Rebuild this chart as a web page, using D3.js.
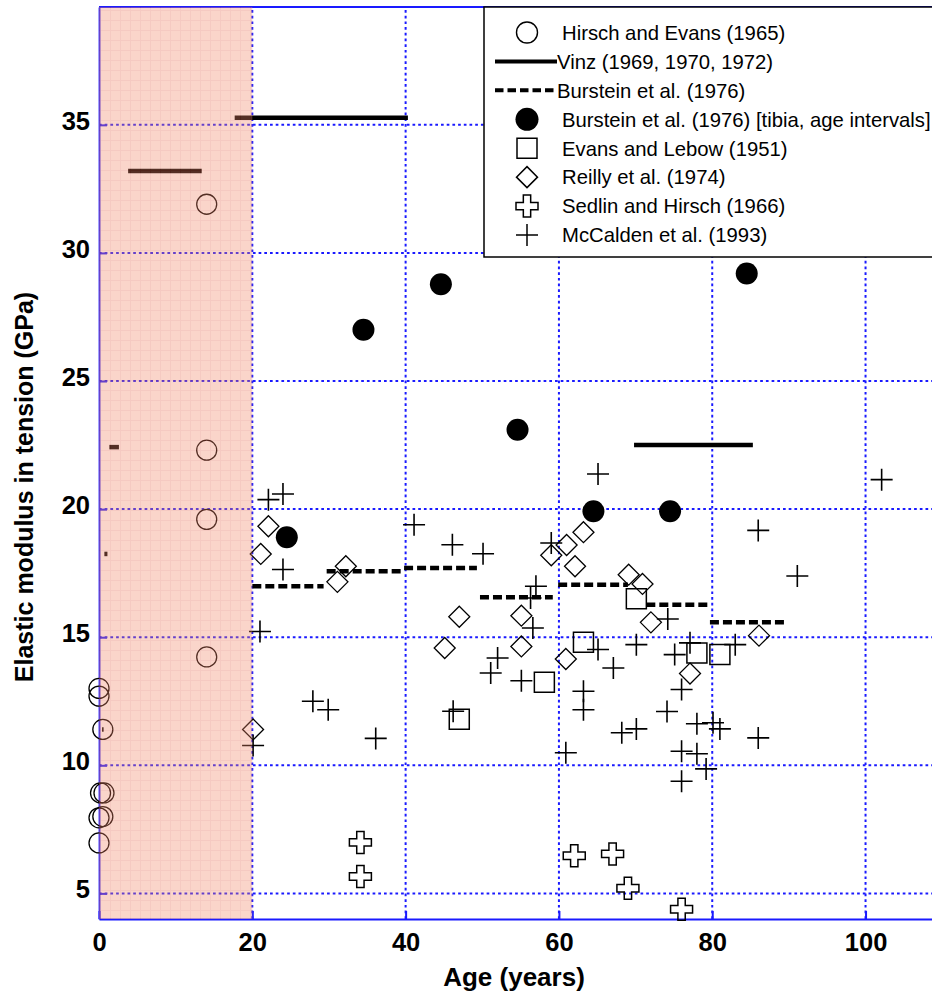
<!DOCTYPE html>
<html>
<head>
<meta charset="utf-8">
<script src="https://cdn.jsdelivr.net/npm/d3@7"></script>
<style>
body { margin: 0; background: #fff; }
text { font-family: "Liberation Sans", Arial, sans-serif; }
</style>
</head>
<body>
<div id="chart"></div>
<script>
// Hirsch and Evans (1965) - open circles
var hirschAge = [0.0, 0.0, 0.5, 0.2, 0.65, 0.0, 0.5, 0.0, 14.05, 14.05, 14.05, 14.05];
var hirschMod = [13.0, 12.7, 11.4, 8.92, 8.92, 7.95, 8.0, 6.97, 31.9, 22.3, 19.6, 14.23];

// Vinz (1969, 1970, 1972) - solid segments
var vinzFrom = [0.4, 0.7, 1.35, 3.8, 17.7, 69.8];
var vinzTo   = [0.6, 1.1, 2.6, 13.4, 40.3, 85.3];
var vinzMod  = [11.4, 18.25, 22.42, 33.2, 35.28, 22.5];

// Burstein et al. (1976) - dashed segments
var bursteinFrom = [20, 29.7, 39.8, 49.7, 59.9, 71.4, 79.7];
var bursteinTo   = [29.3, 39.7, 49.3, 59.2, 69.0, 79.5, 89.5];
var bursteinMod  = [16.99, 17.57, 17.7, 16.56, 17.05, 16.27, 15.58];

// Burstein et al. (1976) tibia, age intervals - filled circles
var tibiaAge = [24.5, 34.5, 44.6, 54.6, 64.5, 74.5, 84.5];
var tibiaMod = [18.9, 27.0, 28.78, 23.1, 19.92, 19.92, 29.2];

// Evans and Lebow (1951) - squares
var evansAge = [47.0, 58.1, 63.2, 70.1, 78.0, 81.0];
var evansMod = [11.8, 13.24, 14.8, 16.5, 14.38, 14.32];

// Reilly et al. (1974) - diamonds
var reillyAge = [20.1, 21.1, 22.1, 31.1, 32.2, 45.1, 47.0, 55.1, 55.1, 59.0, 61.0, 62.1, 63.2, 60.9, 69.1, 70.9, 72.0, 77.1, 86.1];
var reillyMod = [11.4, 18.25, 19.33, 17.16, 17.77, 14.58, 15.8, 15.84, 14.64, 18.2, 18.6, 17.77, 19.1, 14.15, 17.44, 17.08, 15.58, 13.58, 15.06];

// Sedlin and Hirsch (1966) - open crosses
var sedlinAge = [34.1, 34.1, 62.0, 67.0, 69.0, 76.0];
var sedlinMod = [6.99, 5.66, 6.47, 6.54, 5.2, 4.38];

// McCalden et al. (1993) - plus signs
var mccAge = [20.1, 21.0, 22.1, 24.0, 24.0, 27.9, 29.9, 36.1, 41.1, 46.1, 46.2, 50.1, 51.1, 52.0, 55.1,
              56.3, 56.6, 57.0, 59.0, 60.9, 63.2, 63.2, 65.1, 65.1, 67.1, 68.2, 70.1, 70.1, 74.1, 74.2,
              75.1, 76.0, 76.0, 76.0, 77.1, 78.0, 78.0, 79.2, 80.1, 81.0, 83.0, 86.0, 86.0, 91.1, 102.1];
var mccMod = [10.77, 15.22, 20.37, 20.59, 17.64, 12.5, 12.17, 11.05, 19.39, 18.61, 12.11, 18.26, 13.6, 14.19, 13.3,
              16.53, 15.36, 16.99, 18.68, 10.49, 12.17, 12.89, 14.52, 21.37, 13.8, 11.27, 11.42, 14.71, 12.1, 15.71,
              14.32, 12.96, 10.55, 9.38, 14.78, 11.62, 10.45, 9.86, 11.66, 11.42, 14.71, 19.17, 11.07, 17.39, 21.15];

var xTicks = [0, 20, 40, 60, 80, 100];
var yTicks = [5, 10, 15, 20, 25, 30, 35];
var shadedAge = [0, 20];

var legendLabels = ["Hirsch and Evans (1965)", "Vinz (1969, 1970, 1972)", "Burstein et al. (1976)",
  "Burstein et al. (1976) [tibia, age intervals]", "Evans and Lebow (1951)", "Reilly et al. (1974)",
  "Sedlin and Hirsch (1966)", "McCalden et al. (1993)"];
var legendKinds = ["circle", "solid", "dashed", "dot", "square", "diamond", "cross", "plus"];

var W = 932, H = 996;
var x = d3.scaleLinear().domain([0, 110]).range([99, 942.2]);
var y = d3.scaleLinear().domain([4, 39.6]).range([919, 7]);

var svg = d3.select("#chart").append("svg")
    .attr("width", W)
    .attr("height", H)
    .style("display", "block");

svg.append("rect").attr("width", W).attr("height", H).attr("fill", "#fff");

// marker paths
function markerPath(kind, s) {
  if (kind == "square") {
    return "M" + (-s) + "," + (-s) + "H" + s + "V" + s + "H" + (-s) + "Z";
  } else if (kind == "diamond") {
    return "M0," + (-s) + "L" + s + ",0L0," + s + "L" + (-s) + ",0Z";
  } else if (kind == "plus") {
    return "M" + (-s) + ",0H" + s + "M0," + (-s) + "V" + s;
  } else if (kind == "cross") {
    var a = s / 3;
    return "M" + (-a) + "," + (-s) + "H" + a + "V" + (-a) + "H" + s + "V" + a + "H" + a + "V" + s +
      "H" + (-a) + "V" + a + "H" + (-s) + "V" + (-a) + "H" + (-a) + "Z";
  }
}

// grid
var grid = svg.append("g").attr("class", "grid");
grid.selectAll(".vgrid")
    .data(xTicks.filter(function(d) { return d > 0; }))
  .enter().append("line")
    .attr("x1", function(d) { return x(d); })
    .attr("x2", function(d) { return x(d); })
    .attr("y1", y.range()[0])
    .attr("y2", y.range()[1]);
grid.selectAll(".hgrid")
    .data(yTicks)
  .enter().append("line")
    .attr("x1", x(0))
    .attr("x2", W)
    .attr("y1", function(d) { return y(d); })
    .attr("y2", function(d) { return y(d); });
grid.selectAll("line")
    .attr("stroke", "#1a1aff")
    .attr("stroke-width", 2)
    .attr("stroke-dasharray", "2.7,3");

// axes
var xAxis = d3.axisBottom(x).tickValues(xTicks).tickSizeInner(-8).tickSizeOuter(0).tickPadding(14);
var yAxis = d3.axisLeft(y).tickValues(yTicks).tickSizeInner(-8).tickSizeOuter(0).tickPadding(9);

var gx = svg.append("g")
    .attr("transform", "translate(0," + y.range()[0] + ")")
    .call(xAxis);
var gy = svg.append("g")
    .attr("transform", "translate(" + x(0) + ",0)")
    .call(yAxis);
gy.selectAll(".tick text").attr("dy", "0.18em");

[gx, gy].forEach(function(g) {
  g.select(".domain").attr("stroke", "#1a1aff").attr("stroke-width", 1.8);
  g.selectAll(".tick line").attr("stroke", "#1a1aff").attr("stroke-width", 2);
  g.selectAll(".tick text")
    .attr("fill", "#000")
    .style("font-size", "25.5px")
    .style("font-weight", "bold")
    .style("font-family", "'Liberation Sans', Arial, sans-serif");
});

svg.append("line")
    .attr("x1", x(0)).attr("x2", W)
    .attr("y1", y.range()[1]).attr("y2", y.range()[1])
    .attr("stroke", "#1a1aff").attr("stroke-width", 1.8);

// data marks
var marks = svg.append("g").attr("class", "marks");

function segs(from, to, val) {
  return from.map(function(d, i) { return {a: d, b: to[i], v: val[i]}; });
}
function pts(ax, vals) {
  return ax.map(function(d, i) { return {a: d, v: vals[i]}; });
}

marks.selectAll(".vinz")
    .data(segs(vinzFrom, vinzTo, vinzMod))
  .enter().append("line")
    .attr("class", "vinz")
    .attr("x1", function(d) { return x(d.a); })
    .attr("x2", function(d) { return x(d.b); })
    .attr("y1", function(d) { return y(d.v); })
    .attr("y2", function(d) { return y(d.v); })
    .attr("stroke", "#000")
    .attr("stroke-width", 4.5);

marks.selectAll(".burstein")
    .data(segs(bursteinFrom, bursteinTo, bursteinMod))
  .enter().append("line")
    .attr("class", "burstein")
    .attr("x1", function(d) { return x(d.a); })
    .attr("x2", function(d) { return x(d.b); })
    .attr("y1", function(d) { return y(d.v); })
    .attr("y2", function(d) { return y(d.v); })
    .attr("stroke", "#000")
    .attr("stroke-width", 4.5)
    .attr("stroke-dasharray", "9,4");

marks.selectAll(".hirsch")
    .data(pts(hirschAge, hirschMod))
  .enter().append("circle")
    .attr("class", "hirsch")
    .attr("cx", function(d) { return x(d.a); })
    .attr("cy", function(d) { return y(d.v); })
    .attr("r", 10)
    .attr("fill", "none")
    .attr("stroke", "#000")
    .attr("stroke-width", 1.3);

marks.selectAll(".tibia")
    .data(pts(tibiaAge, tibiaMod))
  .enter().append("circle")
    .attr("class", "tibia")
    .attr("cx", function(d) { return x(d.a); })
    .attr("cy", function(d) { return y(d.v); })
    .attr("r", 11)
    .attr("fill", "#000");

function drawShapes(cls, ax, vals, kind, s, sw) {
  marks.selectAll("." + cls)
      .data(pts(ax, vals))
    .enter().append("path")
      .attr("class", cls)
      .attr("transform", function(d) { return "translate(" + x(d.a) + "," + y(d.v) + ")"; })
      .attr("d", markerPath(kind, s))
      .attr("fill", "none")
      .attr("stroke", "#000")
      .attr("stroke-width", sw);
}
drawShapes("evans", evansAge, evansMod, "square", 10, 1.5);
drawShapes("reilly", reillyAge, reillyMod, "diamond", 10.5, 1.3);
drawShapes("sedlin", sedlinAge, sedlinMod, "cross", 11, 1.5);
drawShapes("mcc", mccAge, mccMod, "plus", 11, 1.6);

// shaded childhood region (drawn over the marks)
var defs = svg.append("defs");
var pat = defs.append("pattern")
    .attr("id", "pinkgrid")
    .attr("patternUnits", "userSpaceOnUse")
    .attr("width", 10).attr("height", 10);
pat.append("rect").attr("width", 10).attr("height", 10).attr("fill", "rgb(241,135,105)");
pat.append("path").attr("d", "M0,0.5H10M0.5,0V10")
    .attr("stroke", "rgb(226,105,80)").attr("stroke-width", 1);

svg.append("rect")
    .attr("x", x(shadedAge[0]))
    .attr("y", y.range()[1])
    .attr("width", x(shadedAge[1]) - x(shadedAge[0]))
    .attr("height", y.range()[0] - y.range()[1])
    .attr("fill", "url(#pinkgrid)")
    .attr("opacity", 0.35);

// legend
var legend = svg.append("g").attr("transform", "translate(484,7)");
legend.append("rect")
    .attr("width", 470)
    .attr("height", 250)
    .attr("fill", "#fff")
    .attr("stroke", "#000")
    .attr("stroke-width", 1.5);

var rowY = d3.scaleLinear().domain([0, 7]).range([25.5, 228]);
var items = legend.selectAll(".item")
    .data(legendLabels)
  .enter().append("g")
    .attr("class", "item")
    .attr("transform", function(d, i) { return "translate(0," + rowY(i) + ")"; });

items.each(function(d, i) {
  var g = d3.select(this);
  var k = legendKinds[i];
  var mx = 43;
  if (k == "solid" || k == "dashed") {
    g.append("line")
      .attr("x1", 11).attr("x2", 73)
      .attr("stroke", "#000").attr("stroke-width", 4)
      .attr("stroke-dasharray", k == "dashed" ? "8.5,4" : null);
  } else if (k == "circle") {
    g.append("circle").attr("cx", mx).attr("r", 10.5)
      .attr("fill", "none").attr("stroke", "#000").attr("stroke-width", 1.4);
  } else if (k == "dot") {
    g.append("circle").attr("cx", mx).attr("r", 11.5).attr("fill", "#000");
  } else {
    var s = {square: 10, diamond: 10.5, cross: 11, plus: 11}[k];
    g.append("path")
      .attr("transform", "translate(" + mx + ",0)")
      .attr("d", markerPath(k, s))
      .attr("fill", "none").attr("stroke", "#000").attr("stroke-width", 1.5);
  }
  g.append("text")
    .attr("x", (k == "solid" || k == "dashed") ? 73 : 78)
    .attr("dy", "0.36em")
    .style("font-size", "20.3px")
    .attr("fill", "#000")
    .text(d);
});

// axis titles
svg.append("text")
    .attr("x", 514)
    .attr("y", 986)
    .attr("text-anchor", "middle")
    .style("font-size", "26px")
    .style("font-weight", "bold")
    .text("Age (years)");

svg.append("text")
    .attr("transform", "translate(33,487) rotate(-90)")
    .attr("text-anchor", "middle")
    .style("font-size", "25px")
    .style("font-weight", "bold")
    .text("Elastic modulus in tension (GPa)");
</script>
</body>
</html>
